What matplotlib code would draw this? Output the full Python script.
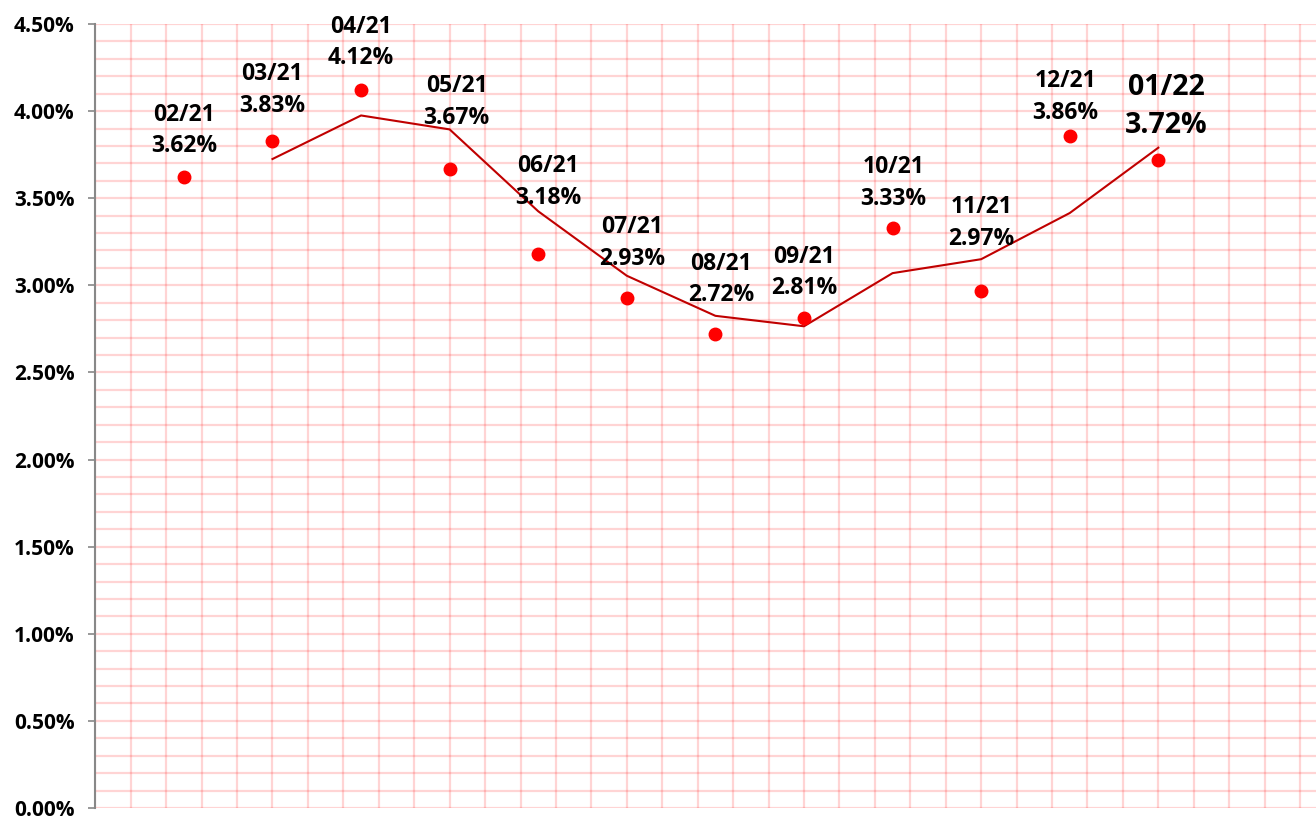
import matplotlib
matplotlib.use("Agg")
import matplotlib.pyplot as plt
import pandas as pd
from matplotlib.ticker import MultipleLocator, PercentFormatter, NullFormatter

# data
months = ['02/21', '03/21', '04/21', '05/21', '06/21', '07/21',
          '08/21', '09/21', '10/21', '11/21', '12/21', '01/22']
rates = [3.62, 3.83, 4.12, 3.67, 3.18, 2.93, 2.72, 2.81, 3.33, 2.97, 3.86, 3.72]

# label offsets (pixels) from each point to the label baseline
label_dx = [0, 0, 0, 7, 10, 5, 6, 0, 1, 0, -4, 8]
label_dy = [25, 29, 26, 45, 50, 33, 33, 24, 23, 46, 17, 27]

plt.rcParams['font.family'] = ['Open Sans', 'DejaVu Sans']

x = list(range(1, len(months) + 1))
y = [r / 100 for r in rates]
trend = pd.Series(y).rolling(2).mean()  # 2-period moving average

fig = plt.figure(figsize=(13.16, 8.17), dpi=100)
ax = fig.add_axes([95.3 / 1316, 9 / 817, 1 - 95.3 / 1316, 784 / 817])

ax.plot(x, trend, color='#c00000', lw=1.5, zorder=3)
ax.plot(x, y, 'o', color='#ff0000', ms=9, zorder=4)

for i, (m, r) in enumerate(zip(months, rates)):
    size = 20.5 if i == len(months) - 1 else 16.5
    ax.annotate(f'{m}\n{r:.2f}%', (x[i], y[i]),
                xytext=(label_dx[i], label_dy[i]), textcoords='offset pixels',
                ha='center', va='baseline', fontsize=size,
                fontweight='bold', linespacing=1.42, zorder=5)

ax.set_xlim(0, 13.78)
ax.set_ylim(0, 0.045)
ax.xaxis.set_major_locator(MultipleLocator(0.4))
ax.xaxis.set_major_formatter(NullFormatter())
ax.tick_params(axis='x', length=0)
ax.yaxis.set_major_locator(MultipleLocator(0.005))
ax.yaxis.set_minor_locator(MultipleLocator(0.001))
ax.yaxis.set_major_formatter(PercentFormatter(1, decimals=2))
ax.tick_params(axis='y', which='major', direction='out', length=5,
               width=1.2, color='#888888', pad=10, labelsize=15)
ax.tick_params(axis='y', which='minor', length=0)
for lbl in ax.get_yticklabels():
    lbl.set_fontweight('bold')

ax.grid(which='both', color='#ff0000', alpha=0.17, lw=1.6)
ax.set_axisbelow(True)

for s in ['top', 'right', 'bottom']:
    ax.spines[s].set_visible(False)
ax.spines['left'].set_color('#888888')
ax.spines['left'].set_linewidth(1.5)

fig.savefig('out.png', dpi=100)
